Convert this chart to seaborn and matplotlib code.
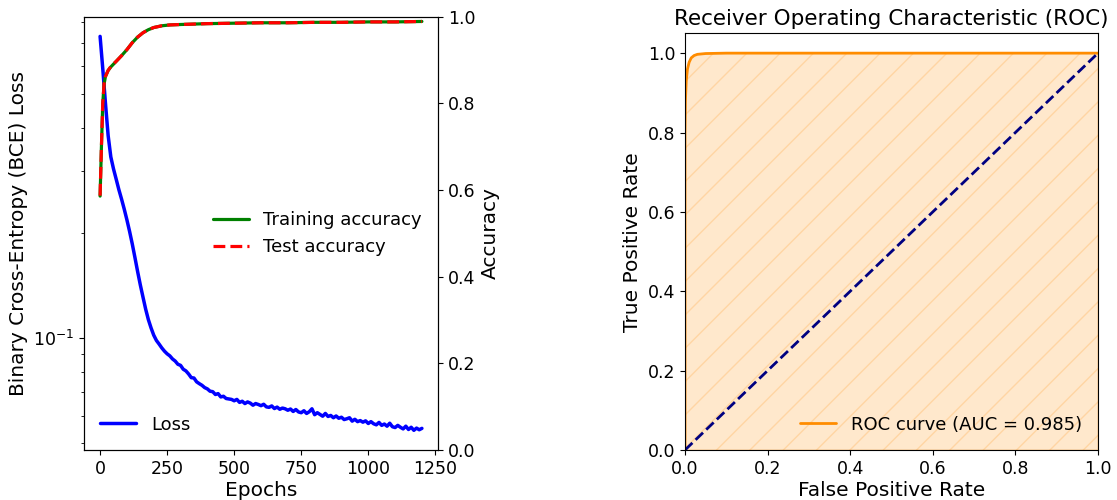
import numpy as np
import pandas as pd
import matplotlib
matplotlib.use("Agg")
import matplotlib.pyplot as plt
import seaborn as sns

# ---------------- data ----------------
loss_epochs = list(range(0, 1201, 10))
loss_values = [
    0.730, 0.590, 0.470, 0.380, 0.330, 0.305, 0.285, 0.266, 0.250, 0.234,
    0.218, 0.202, 0.186, 0.170, 0.155, 0.142, 0.131, 0.121, 0.113, 0.107,
    0.1020, 0.0985, 0.0962, 0.0938, 0.0918, 0.0902, 0.0890, 0.0872, 0.0860, 0.0842,
    0.0836, 0.0815, 0.0806, 0.0790, 0.0771, 0.0769, 0.0750, 0.0741, 0.0733, 0.0722,
    0.0716, 0.0705, 0.0703, 0.0690, 0.0694, 0.0679, 0.0682, 0.0672, 0.0670, 0.0668,
    0.0662, 0.0668, 0.0655, 0.0660, 0.0650, 0.0657, 0.0652, 0.0643, 0.0650, 0.0646,
    0.0641, 0.0647, 0.0636, 0.0634, 0.0640, 0.0629, 0.0635, 0.0626, 0.0631, 0.0628,
    0.0622, 0.0627, 0.0617, 0.0625, 0.0615, 0.0612, 0.0620, 0.0609, 0.0616, 0.0628,
    0.0604, 0.0612, 0.0605, 0.0598, 0.0609, 0.0597, 0.0601, 0.0592, 0.0599, 0.0590,
    0.0594, 0.0585, 0.0588, 0.0592, 0.0579, 0.0586, 0.0577, 0.0581, 0.0575, 0.0580,
    0.0570, 0.0577, 0.0569, 0.0565, 0.0574, 0.0563, 0.0568, 0.0560, 0.0571, 0.0558,
    0.0555, 0.0563, 0.0556, 0.0550, 0.0560, 0.0548, 0.0556, 0.0545, 0.0553, 0.0547, 0.0552,
]

acc_epochs = [0, 5, 10, 15, 20, 30, 40, 60, 80, 100, 120, 140, 160, 180, 200,
              230, 260, 300, 400, 500, 600, 700, 800, 900, 1000, 1100, 1200]
train_acc = [0.586, 0.700, 0.800, 0.845, 0.862, 0.876, 0.884, 0.897, 0.910, 0.924,
             0.940, 0.953, 0.963, 0.970, 0.975, 0.979, 0.981, 0.982, 0.984, 0.985,
             0.986, 0.986, 0.987, 0.987, 0.988, 0.988, 0.989]
test_acc = [0.587, 0.701, 0.801, 0.846, 0.862, 0.876, 0.885, 0.897, 0.910, 0.924,
            0.940, 0.953, 0.963, 0.970, 0.975, 0.979, 0.981, 0.982, 0.984, 0.985,
            0.986, 0.986, 0.987, 0.987, 0.988, 0.988, 0.989]

fpr = [0.0, 0.0, 0.001, 0.003, 0.006, 0.010, 0.015, 0.022, 0.030, 0.05, 0.10, 0.30, 1.0]
tpr = [0.0, 0.80, 0.88, 0.93, 0.96, 0.977, 0.988, 0.994, 0.997, 0.999, 1.0, 1.0, 1.0]
roc_auc = 0.985

# ---------------- style ----------------
sns.set_style("ticks")
plt.rcParams.update({
    "font.family": ["DejaVu Sans"],
    "text.color": "black",
    "axes.labelcolor": "black",
    "axes.edgecolor": "black",
    "xtick.color": "black",
    "ytick.color": "black",
    "xtick.major.size": 3.5,
    "ytick.major.size": 3.5,
    "xtick.minor.size": 2.0,
    "ytick.minor.size": 2.0,
    "xtick.major.width": 0.8,
    "ytick.major.width": 0.8,
    "xtick.minor.width": 0.6,
    "ytick.minor.width": 0.6,
    "axes.linewidth": 0.8,
})
TICK_FS = 12.5
LABEL_FS = 14.5
LEG_FS = 13
TITLE_FS = 15.5

fig = plt.figure(figsize=(11.17, 5.0), dpi=100)
ax1 = fig.add_axes([84 / 1117, 50 / 500, (438 - 84) / 1117, (450 - 16.7) / 500])
ax3 = fig.add_axes([685 / 1117, 50 / 500, (1098 - 685) / 1117, (450 - 33.3) / 500])

# ---------------- left: loss + accuracy ----------------
sns.lineplot(x=loss_epochs, y=loss_values, ax=ax1, color="blue", lw=2.5, label="Loss")
ax1.set_yscale("log")
ax1.set_xlabel("Epochs", fontsize=LABEL_FS, labelpad=2)
ax1.set_ylabel("Binary Cross-Entropy (BCE) Loss", fontsize=LABEL_FS)
ax1.tick_params(labelsize=TICK_FS)
ax1.legend(loc="lower left", frameon=False, fontsize=LEG_FS)

ax2 = ax1.twinx()
sns.lineplot(x=acc_epochs, y=train_acc, ax=ax2, color="green", lw=2.3, label="Training accuracy")
sns.lineplot(x=acc_epochs, y=test_acc, ax=ax2, color="red", lw=2.3, linestyle="--", label="Test accuracy")
ax2.set_ylim(0, 1.0)
ax2.set_ylabel("Accuracy", fontsize=LABEL_FS)
ax2.tick_params(labelsize=TICK_FS)
ax2.legend(loc="center right", frameon=False, fontsize=LEG_FS)
for s in ax2.spines.values():
    s.set_visible(True)

# ---------------- right: ROC ----------------
sns.lineplot(x=fpr, y=tpr, ax=ax3, color="darkorange", lw=2,
             label=f"ROC curve (AUC = {roc_auc:.3f})", sort=False, estimator=None)
ax3.fill_between(fpr, tpr, color="darkorange", alpha=0.2, hatch="/")
sns.lineplot(x=[0, 1], y=[0, 1], ax=ax3, color="navy", lw=2, linestyle="--")
ax3.set_xlim(0.0, 1.0)
ax3.set_ylim(0.0, 1.05)
ax3.set_xlabel("False Positive Rate", fontsize=LABEL_FS, labelpad=2)
ax3.set_ylabel("True Positive Rate", fontsize=LABEL_FS)
ax3.set_title("Receiver Operating Characteristic (ROC)", fontsize=TITLE_FS)
ax3.tick_params(labelsize=TICK_FS)
ax3.legend(loc="lower right", frameon=False, fontsize=LEG_FS)
for s in ax3.spines.values():
    s.set_visible(True)

fig.savefig("out.png", dpi=100)
